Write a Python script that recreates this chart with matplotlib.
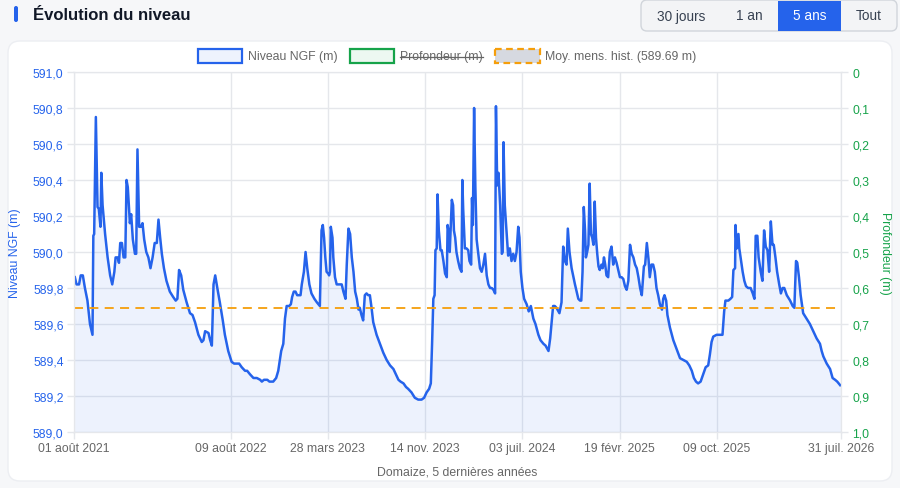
import pandas as pd
import matplotlib
matplotlib.use('Agg')
import matplotlib.pyplot as plt
from matplotlib.patches import FancyBboxPatch, Rectangle
from matplotlib.ticker import FuncFormatter, MultipleLocator

plt.rcParams['font.family'] = ['Liberation Sans', 'DejaVu Sans']

# Niveau NGF relevé (jours depuis le 01/08/2021)
debut = '2021-08-01'
fin = '2026-07-31'
jours = [
    2, 6, 12, 16, 21, 26, 32, 38, 44, 46, 48, 52, 56, 59, 63, 65, 68, 74, 80, 86,
    91, 96, 99, 104, 107, 110, 114, 118, 122, 125, 128, 133, 136, 140, 145, 148, 151, 155, 159, 163,
    167, 172, 177, 182, 187, 192, 197, 201, 205, 209, 214, 220, 228, 236, 242, 246, 250, 255, 260, 268,
    276, 282, 288, 296, 304, 308, 312, 320, 324, 328, 332, 336, 341, 347, 354, 359, 367, 375, 381, 387,
    393, 399, 407, 412, 419, 427, 435, 443, 447, 452, 460, 465, 474, 481, 486, 493, 498, 502, 506, 512,
    516, 519, 523, 527, 531, 539, 542, 547, 551, 555, 560, 565, 572, 578, 585,
    589, 592, 595, 598, 601, 605, 607, 609, 611, 615, 617, 621, 625, 633, 637, 641, 646, 649, 653, 657,
    661, 665, 669, 673, 677, 680, 684, 688, 692, 696, 700, 704, 708, 712, 720, 728, 736, 744, 752, 760,
    766, 772, 777, 784, 790, 795, 803, 811, 819, 827, 833, 839, 845, 849, 852, 855, 858, 860, 863, 865,
    868, 872, 875, 879, 883, 887, 889, 891, 894, 899, 902, 904, 907, 910, 914, 918, 922, 924, 926, 930,
    934, 938, 941, 945, 947, 949, 952, 955, 958, 962, 966, 970, 974, 978, 982, 986, 990, 994, 998, 1002,
    1004, 1007, 1010, 1014, 1018, 1020, 1022, 1025, 1029, 1033, 1037, 1041, 1045, 1049, 1053, 1057, 1060, 1063, 1067, 1071,
    1077, 1082, 1087, 1093, 1098, 1105, 1110, 1117, 1122, 1129, 1133, 1136, 1140, 1144, 1148, 1155, 1160, 1164, 1168, 1172,
    1175, 1179, 1184, 1192, 1200, 1204,
    1207, 1210, 1213, 1216, 1218, 1221, 1224, 1227, 1230, 1233, 1236, 1239, 1242, 1245, 1248, 1251, 1255, 1258, 1261, 1264,
    1267, 1271, 1275, 1279, 1283, 1287, 1291, 1295, 1299, 1303, 1307, 1311, 1315, 1319, 1323, 1327, 1331, 1335, 1339, 1343,
    1347, 1351, 1356, 1359, 1363, 1367, 1370, 1374, 1378, 1382, 1386, 1390, 1394, 1399, 1402, 1405, 1409, 1412, 1418, 1426,
    1434, 1442, 1450, 1458, 1464, 1470, 1475, 1480, 1485, 1491, 1497, 1503, 1509, 1513, 1517, 1521, 1529, 1537, 1543, 1547,
    1550, 1557, 1562, 1566, 1569, 1573, 1574, 1577, 1581, 1583, 1586, 1591, 1595, 1599, 1604, 1610, 1615, 1619, 1622, 1626,
    1629, 1634, 1638, 1642, 1646, 1650, 1654, 1658, 1662, 1665, 1669, 1673, 1678, 1682, 1686, 1690, 1696, 1704, 1710, 1714,
    1718, 1721, 1725, 1729, 1735, 1743, 1751, 1759, 1767, 1775, 1779, 1783, 1791, 1799, 1805, 1811, 1816, 1823,
]
niveau = [
    589.86, 589.82, 589.82, 589.87, 589.87, 589.80, 589.73, 589.60, 589.54, 590.09, 590.10, 590.75, 590.25, 590.24, 590.14, 590.44, 590.26, 590.10, 589.97, 589.87,
    589.82, 589.89, 589.97, 589.97, 589.94, 590.05, 590.05, 589.97, 589.97, 590.40, 590.36, 590.16, 590.21, 590.07, 589.99, 589.99, 590.57, 590.14, 590.14, 590.16,
    590.07, 590.00, 589.97, 589.91, 589.97, 590.05, 590.05, 590.18, 590.08, 589.99, 589.91, 589.84, 589.78, 589.75, 589.73, 589.74, 589.90, 589.87, 589.79, 589.72,
    589.66, 589.65, 589.61, 589.54, 589.50, 589.51, 589.56, 589.55, 589.51, 589.48, 589.82, 589.87, 589.80, 589.72, 589.62, 589.54, 589.45, 589.39, 589.38, 589.38,
    589.38, 589.36, 589.34, 589.34, 589.32, 589.30, 589.30, 589.29, 589.28, 589.29, 589.29, 589.28, 589.28, 589.30, 589.34, 589.45, 589.49, 589.63, 589.70, 589.70,
    589.71, 589.75, 589.78, 589.78, 589.76, 589.76, 589.82, 589.89, 590.00, 589.91, 589.82, 589.77, 589.74, 589.72, 589.70,
    590.12, 590.15, 590.08, 589.97, 589.89, 589.88, 589.87, 589.89, 590.14, 590.08, 589.97, 589.86, 589.82, 589.82, 589.82, 589.78, 589.74, 589.93, 590.13, 590.10,
    589.97, 589.89, 589.78, 589.74, 589.68, 589.69, 589.65, 589.62, 589.76, 589.77, 589.76, 589.76, 589.69, 589.61, 589.54, 589.49, 589.44, 589.40, 589.37, 589.35,
    589.32, 589.29, 589.28, 589.27, 589.25, 589.24, 589.22, 589.19, 589.18, 589.18, 589.19, 589.22, 589.24, 589.27, 589.49, 589.74, 589.76, 590.01, 590.02, 590.32,
    590.12, 590.01, 590.01, 589.95, 589.88, 589.86, 590.15, 590.12, 590.00, 590.29, 590.26, 590.12, 590.08, 590.00, 589.95, 589.91, 589.89, 590.40, 590.24, 590.02,
    590.02, 590.01, 589.95, 589.93, 590.30, 590.15, 590.80, 590.36, 590.07, 589.99, 589.91, 589.89, 589.93, 589.99, 589.87, 589.82, 589.80, 589.80, 589.79, 589.77,
    590.81, 590.37, 590.44, 590.26, 589.99, 590.00, 590.61, 590.26, 590.12, 589.98, 590.02, 589.95, 589.99, 589.95, 590.00, 590.14, 590.08, 589.89, 589.80, 589.74,
    589.71, 589.67, 589.70, 589.63, 589.60, 589.54, 589.51, 589.49, 589.48, 589.45, 589.52, 589.60, 589.70, 589.70, 589.69, 589.66, 589.72, 590.03, 589.95, 589.93,
    590.13, 590.00, 589.91, 589.82, 589.74, 589.73,
    589.73, 589.89, 590.25, 590.12, 589.97, 590.00, 590.04, 590.38, 590.10, 590.08, 590.04, 590.28, 590.08, 589.99, 589.92, 589.90, 589.93, 589.91, 589.97, 589.93,
    589.87, 589.86, 590.00, 590.03, 589.93, 589.97, 589.94, 589.90, 589.86, 589.86, 589.85, 589.81, 589.79, 589.84, 590.04, 589.99, 589.97, 589.93, 589.91, 589.86,
    589.80, 589.76, 589.92, 589.93, 590.05, 589.96, 589.86, 589.93, 589.93, 589.89, 589.80, 589.76, 589.71, 589.68, 589.74, 589.76, 589.73, 589.65, 589.58, 589.51,
    589.46, 589.41, 589.40, 589.39, 589.37, 589.34, 589.30, 589.28, 589.27, 589.28, 589.32, 589.36, 589.37, 589.43, 589.50, 589.53, 589.54, 589.54, 589.54, 589.67,
    589.73, 589.73, 589.74, 589.75, 589.90, 589.91, 590.15, 590.02, 590.10, 590.02, 589.97, 589.89, 589.84, 589.81, 589.80, 589.80, 589.77, 589.74, 590.09, 590.09,
    589.97, 589.89, 589.84, 590.12, 590.03, 590.01, 589.89, 590.17, 590.04, 590.04, 589.97, 589.89, 589.82, 589.77, 589.80, 589.80, 589.76, 589.73, 589.70, 589.69,
    589.95, 589.94, 589.86, 589.76, 589.66, 589.63, 589.60, 589.56, 589.52, 589.49, 589.45, 589.42, 589.38, 589.35, 589.30, 589.29, 589.28, 589.26,
]
moyenne_hist = 589.69

tick_dates = ['2021-08-01', '2022-08-09', '2023-03-28', '2023-11-14',
              '2024-07-03', '2025-02-19', '2025-10-09', '2026-07-31']
tick_labels = ['01 août 2021', '09 août 2022', '28 mars 2023', '14 nov. 2023',
               '03 juil. 2024', '19 févr. 2025', '09 oct. 2025', '31 juil. 2026']
periodes = ['30 jours', '1 an', '5 ans', 'Tout']

dates = pd.Timestamp(debut) + pd.to_timedelta(jours, unit='D')

BLEU = '#2563eb'
VERT = '#16a34a'
ORANGE = '#f59e0b'
GRIS = '#666666'
GRILLE = '#e5e7eb'

fig = plt.figure(figsize=(9, 4.89), dpi=100)
fig.patch.set_facecolor('#f6f7f9')

# fond en pixels (carte, titre, boutons, légende)
bg = fig.add_axes([0, 0, 1, 1], zorder=0)
bg.set_xlim(0, 900)
bg.set_ylim(489, 0)
bg.axis('off')

bg.add_patch(FancyBboxPatch((8, 42), 884, 440, boxstyle='round,pad=0,rounding_size=12',
                            fc='white', ec='#eceef2', lw=1))
bg.add_patch(FancyBboxPatch((14, 7), 4, 16, boxstyle='round,pad=0,rounding_size=2',
                            fc=BLEU, ec='none'))
bg.text(33, 15, 'Évolution du niveau', fontsize=12, fontweight='bold',
        color='#111827', va='center', ha='left')

# boutons de période
bg.add_patch(FancyBboxPatch((641, 1), 256, 31, boxstyle='round,pad=0,rounding_size=6',
                            fc='#f3f4f6', ec='#d1d5db', lw=1))
bg.add_patch(Rectangle((778, 1.5), 63, 30, fc=BLEU, ec='none'))
for lab, cx in zip(periodes, [681, 749, 809.5, 869]):
    bg.text(cx, 16.5, lab, fontsize=9.8, ha='center', va='center',
            color='white' if lab == '5 ans' else '#374151')

# légende
bg.add_patch(Rectangle((198, 50), 44, 14, fc='#eef3fd', ec=BLEU, lw=1.6))
bg.text(248, 57, 'Niveau NGF (m)', fontsize=8.8, color=GRIS, va='center', ha='left')
bg.add_patch(Rectangle((350, 50), 44, 14, fc='#edf8f1', ec=VERT, lw=1.6))
t_prof = bg.text(400, 57, 'Profondeur (m)', fontsize=8.8, color=GRIS, va='center', ha='left')
bg.add_patch(Rectangle((495, 50), 45, 14, fc='#d6d9e0', ec=ORANGE, lw=1.6, ls=(0, (3, 2))))
bg.text(545, 57, 'Moy. mens. hist. (589.69 m)', fontsize=8.8, color=GRIS, va='center', ha='left')

# graphique
ax = fig.add_axes([74 / 900, 1 - 433 / 489, 767 / 900, 360 / 489], zorder=1)
ax.patch.set_alpha(0)
ax.fill_between(dates, niveau, 589.0, color=BLEU, alpha=0.08, lw=0)
ax.plot(dates, niveau, color=BLEU, lw=1.8, solid_joinstyle='round')
ax.axhline(moyenne_hist, color=ORANGE, lw=1.3, dashes=(5, 3.5))

ax.set_xlim(pd.Timestamp(debut), pd.Timestamp(fin))
ax.set_xticks(pd.to_datetime(tick_dates))
ax.set_xticklabels(tick_labels)
ax.set_ylim(589.0, 591.0)
ax.yaxis.set_major_locator(MultipleLocator(0.2))
ax.yaxis.set_major_formatter(FuncFormatter(lambda v, p: f'{v:.1f}'.replace('.', ',')))
ax.set_axisbelow(True)
ax.grid(True, color=GRILLE, lw=1)
for s in ax.spines.values():
    s.set_color(GRILLE)
ax.tick_params(axis='both', length=5, width=1, color=GRILLE, labelsize=8.8, pad=2.5)
ax.tick_params(axis='x', labelcolor=GRIS)
ax.tick_params(axis='y', labelcolor=BLEU)

ax.set_xlabel('Domaize, 5 dernières années', fontsize=8.8, color=GRIS)
ax.xaxis.set_label_coords(0.5, -(473 - 433) / 360)
ax.xaxis.label.set_va('center')
ax.set_ylabel('Niveau NGF (m)', fontsize=8.8, color=BLEU)
ax.yaxis.set_label_coords((15 - 74) / 767, 0.5)
ax.yaxis.label.set_va('center')

ax2 = ax.twinx()
ax2.set_ylim(1.0, 0.0)
ax2.yaxis.set_major_locator(MultipleLocator(0.1))
ax2.yaxis.set_major_formatter(FuncFormatter(
    lambda v, p: '0' if abs(v) < 1e-9 else f'{v:.1f}'.replace('.', ',')))
for s in ax2.spines.values():
    s.set_color(GRILLE)
ax2.tick_params(axis='y', length=5, width=1, color=GRILLE, labelsize=8.8,
                pad=3, labelcolor=VERT)
ax2.set_ylabel('Profondeur (m)', fontsize=8.8, color=VERT, rotation=270)
ax2.yaxis.set_label_coords((885 - 74) / 767, 0.5)
ax2.yaxis.label.set_va('center')

# barre sur le libellé masqué
fig.canvas.draw()
bb = t_prof.get_window_extent().transformed(bg.transData.inverted())
bg.plot([bb.x0, bb.x1], [57.5, 57.5], color=GRIS, lw=0.9)

fig.savefig('out.png', dpi=100, facecolor=fig.get_facecolor())
